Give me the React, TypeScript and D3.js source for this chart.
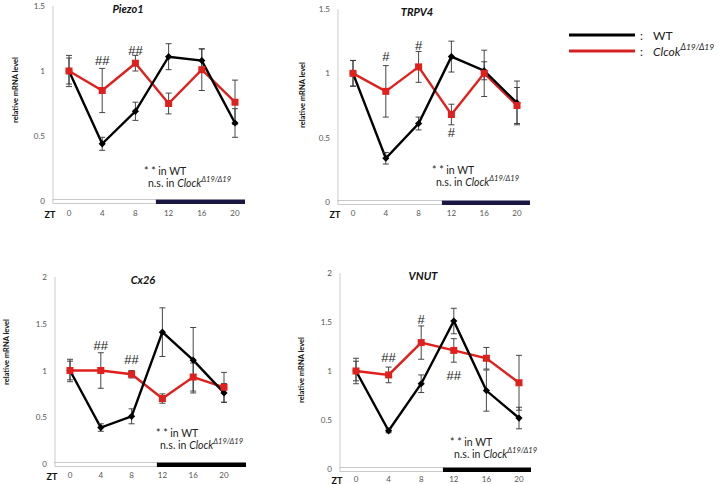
import React from 'react';
import * as d3 from 'd3';

// time points (ZT)
const zt = [0, 4, 8, 12, 16, 20];

// Piezo1
const piezoWT = [1.0, 0.44, 0.69, 1.11, 1.08, 0.6];
const piezoWTErr = [0.1, 0.05, 0.07, 0.1, 0.09, 0.11];
const piezoKO = [1.0, 0.85, 1.06, 0.75, 1.01, 0.76];
const piezoKOErr = [0.12, 0.17, 0.06, 0.08, 0.16, 0.17];
const piezoMarks = [
  { t: 4, v: 1.08, text: '##' },
  { t: 8, v: 1.16, text: '##' },
];

// TRPV4
const trpvWT = [1.0, 0.34, 0.61, 1.13, 1.02, 0.77];
const trpvWTErr = [0.1, 0.045, 0.05, 0.12, 0.07, 0.17];
const trpvKO = [1.0, 0.86, 1.05, 0.68, 1.0, 0.75];
const trpvKOErr = [0.1, 0.2, 0.12, 0.08, 0.18, 0.14];
const trpvMarks = [
  { t: 4, v: 1.13, text: '#' },
  { t: 8, v: 1.22, text: '#' },
  { t: 12, v: 0.54, text: '#' },
];

// Cx26
const cxWT = [1.0, 0.39, 0.51, 1.41, 1.11, 0.76];
const cxWTErr = [0.1, 0.04, 0.08, 0.26, 0.35, 0.1];
const cxKO = [1.0, 1.0, 0.96, 0.7, 0.93, 0.82];
const cxKOErr = [0.12, 0.19, 0.04, 0.05, 0.15, 0.16];
const cxMarks = [
  { t: 4, v: 1.27, text: '##' },
  { t: 8, v: 1.12, text: '##' },
];

// VNUT
const vnutWT = [1.0, 0.39, 0.87, 1.51, 0.8, 0.52];
const vnutWTErr = [0.1, 0.02, 0.09, 0.13, 0.21, 0.11];
const vnutKO = [1.0, 0.96, 1.29, 1.21, 1.13, 0.88];
const vnutKOErr = [0.13, 0.08, 0.17, 0.12, 0.11, 0.28];
const vnutMarks = [
  { t: 4, v: 1.14, text: '##' },
  { t: 8, v: 1.53, text: '#' },
  { t: 12, v: 0.95, text: '##' },
];

const yTicksSmall = [0, 0.5, 1, 1.5];
const yTicksLarge = [0, 0.5, 1, 1.5, 2];

const RED = '#e0201c';
const FONT = 'Lato, "Open Sans", sans-serif';

interface Mark { t: number; v: number; text: string }

interface PanelProps {
  title: string;
  wt: number[];
  wtErr: number[];
  ko: number[];
  koErr: number[];
  marks: Mark[];
  yTicks: number[];
  axisX: number;
  axisEnd: number;
  darkStart: number;
  x0: number;
  x20: number;
  yTop: number;
  yZero: number;
  darkColor: string;
  titleX: number;
  labelX: number;
  labelY: number;
  tickY: number;
  statX: number;
  statY: number;
}

function Panel(p: PanelProps) {
  const x = d3.scaleLinear().domain([0, 20]).range([p.x0, p.x20]);
  const yMax = p.yTicks[p.yTicks.length - 1];
  const y = d3.scaleLinear().domain([0, yMax]).range([p.yZero, p.yTop]);
  const line = d3.line<number>().x((_, i) => x(zt[i])).y((d) => y(d));

  const errBars = (vals: number[], errs: number[]) => vals.map((v, i) => {
    const cx = x(zt[i]);
    return (
      <g key={i} stroke="#333" strokeWidth={0.9}>
        <line x1={cx} x2={cx} y1={y(v - errs[i])} y2={y(v + errs[i])} />
        <line x1={cx - 3} x2={cx + 3} y1={y(v - errs[i])} y2={y(v - errs[i])} />
        <line x1={cx - 3} x2={cx + 3} y1={y(v + errs[i])} y2={y(v + errs[i])} />
      </g>
    );
  });

  return (
    <g>
      {/* y axis */}
      <line x1={p.axisX} x2={p.axisX} y1={p.yTop} y2={p.yZero} stroke="#d4d4d4" strokeWidth={1.2} />
      {p.yTicks.map((t) => (
        <text key={t} x={p.axisX - 8} y={y(t)} textAnchor="end" dominantBaseline="central"
          fontSize={8} fill="#555" fontFamily={FONT}>{t}</text>
      ))}
      <text transform={`translate(${p.labelX},${p.labelY}) rotate(-90)`} textAnchor="middle"
        dominantBaseline="central" fontSize={7.5} fontWeight="bold" fill="#111" fontFamily={FONT}>
        relative mRNA level
      </text>
      <text x={p.titleX} y={p.yTop + 2} textAnchor="middle" dominantBaseline="central"
        fontSize={11} fontWeight="bold" fontStyle="italic" fill="#111" fontFamily={FONT}>{p.title}</text>

      {/* light / dark bar */}
      <rect x={p.axisX} y={p.yZero - 1.5} width={p.darkStart - p.axisX} height={4}
        fill="#fff" stroke="#bdbdbd" strokeWidth={0.8} />
      <rect x={p.darkStart} y={p.yZero - 1.5} width={p.axisEnd - p.darkStart} height={4.5} fill={p.darkColor} />
      {zt.map((t) => (
        <text key={t} x={x(t)} y={p.tickY} textAnchor="middle" dominantBaseline="central"
          fontSize={8} fill="#555" fontFamily={FONT}>{t}</text>
      ))}
      <text x={p.axisX - 3} y={p.tickY + 1} textAnchor="middle" dominantBaseline="central"
        fontSize={9} fontWeight="bold" fill="#111" fontFamily={FONT}>ZT</text>

      {/* series */}
      <path d={line(p.ko) ?? ''} fill="none" stroke={RED} strokeWidth={2.4} />
      <path d={line(p.wt) ?? ''} fill="none" stroke="#000" strokeWidth={2.4} />
      {errBars(p.wt, p.wtErr)}
      {errBars(p.ko, p.koErr)}
      {p.wt.map((v, i) => (
        <path key={i} d="M0,-3.6L3.6,0L0,3.6L-3.6,0Z" transform={`translate(${x(zt[i])},${y(v)})`} fill="#000" />
      ))}
      {p.ko.map((v, i) => (
        <rect key={i} x={x(zt[i]) - 3.5} y={y(v) - 3.5} width={7} height={7} fill={RED} />
      ))}

      {p.marks.map((m, i) => (
        <text key={i} x={x(m.t)} y={y(m.v)} textAnchor="middle" dominantBaseline="central"
          fontSize={13} fill="#222" fontFamily='"Liberation Sans", sans-serif'>{m.text}</text>
      ))}

      <text x={p.statX} y={p.statY} dominantBaseline="central" fontSize={10.5} fill="#222" fontFamily={FONT}>
        * *  in WT
      </text>
      <text x={p.statX + 4} y={p.statY + 12} dominantBaseline="central" fontSize={10.5} fill="#222" fontFamily={FONT}>
        n.s. in <tspan fontStyle="italic">Clock</tspan>
        <tspan fontStyle="italic" fontSize={7.5} dy={-4}>Δ19/Δ19</tspan>
      </text>
    </g>
  );
}

export default function App() {
  return (
    <svg width={720} height={484} style={{ position: 'absolute', left: 0, top: 0, background: '#fff', whiteSpace: 'pre' }}>
      <Panel title="Piezo1" wt={piezoWT} wtErr={piezoWTErr} ko={piezoKO} koErr={piezoKOErr}
        marks={piezoMarks} yTicks={yTicksSmall} axisX={53} axisEnd={245} darkStart={156}
        x0={69} x20={235} yTop={6} yZero={201} darkColor="#1a1842" titleX={128}
        labelX={15} labelY={90} tickY={213} statX={144} statY={171} />
      <Panel title="TRPV4" wt={trpvWT} wtErr={trpvWTErr} ko={trpvKO} koErr={trpvKOErr}
        marks={trpvMarks} yTicks={yTicksSmall} axisX={338} axisEnd={530} darkStart={442}
        x0={353} x20={517} yTop={9} yZero={202} darkColor="#1a1842" titleX={417}
        labelX={302} labelY={95} tickY={213} statX={432} statY={170} />
      <Panel title="Cx26" wt={cxWT} wtErr={cxWTErr} ko={cxKO} koErr={cxKOErr}
        marks={cxMarks} yTicks={yTicksLarge} axisX={55} axisEnd={246} darkStart={157}
        x0={70} x20={224} yTop={277} yZero={464} darkColor="#000" titleX={143}
        labelX={6} labelY={352} tickY={475} statX={156} statY={433} />
      <Panel title="VNUT" wt={vnutWT} wtErr={vnutWTErr} ko={vnutKO} koErr={vnutKOErr}
        marks={vnutMarks} yTicks={yTicksLarge} axisX={340} axisEnd={531} darkStart={443}
        x0={356} x20={519} yTop={273} yZero={469} darkColor="#000" titleX={423}
        labelX={301} labelY={370} tickY={479} statX={450} statY={442} />

      {/* legend */}
      <line x1={569} x2={635} y1={35} y2={35} stroke="#000" strokeWidth={3} />
      <text x={640} y={35} dominantBaseline="central" fontSize={12} fill="#222" fontFamily={FONT}>:</text>
      <text x={653} y={35} dominantBaseline="central" fontSize={12} fill="#222" fontFamily={FONT}>WT</text>
      <line x1={569} x2={635} y1={51} y2={51} stroke="#d42020" strokeWidth={3} />
      <text x={640} y={51} dominantBaseline="central" fontSize={12} fill="#222" fontFamily={FONT}>:</text>
      <text x={653} y={51} dominantBaseline="central" fontSize={12} fill="#222" fontFamily={FONT}>
        <tspan fontStyle="italic">Clcok</tspan>
        <tspan fontStyle="italic" fontSize={8.5} dy={-4}>Δ19/Δ19</tspan>
      </text>
    </svg>
  );
}
